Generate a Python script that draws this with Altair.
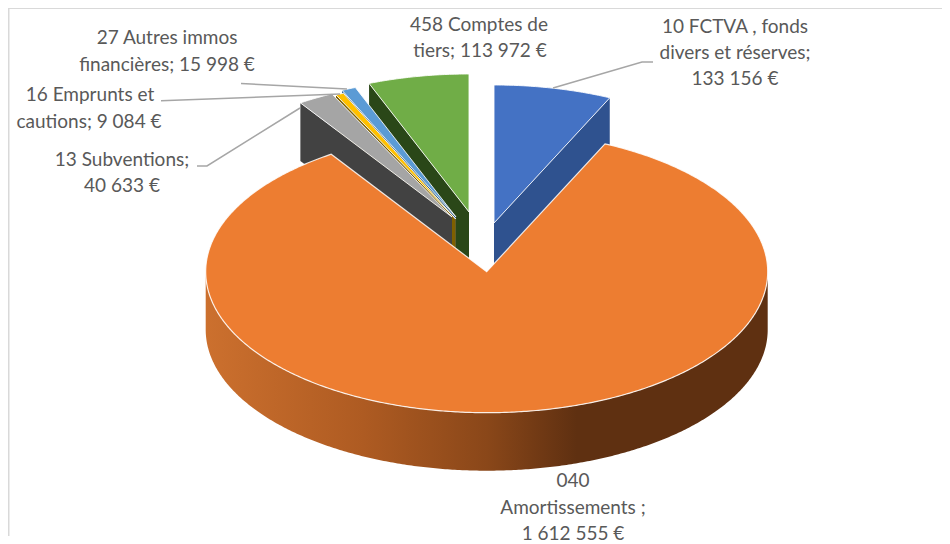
import math
import altair as alt

# --- chart values -----------------------------------------------------------
codes = ["10 FCTVA , fonds divers et réserves", "040 Amortissements", "13 Subventions",
         "16 Emprunts et cautions", "27 Autres immos financières", "458 Comptes de tiers"]
amounts = [133156, 1612555, 40633, 9084, 15998, 113972]
tops = ["#4472c4", "#ed7d31", "#a5a5a5", "#ffc000", "#5b9bd5", "#70ad47"]
walls = ["#2f528f", "#8a4a1d", "#424242", "#7f6000", "#2e5c8a", "#2a4718"]

# --- 3-D look of the pie ----------------------------------------------------
tips = [(494, 223), (486.7, 271.7), (452, 217), (455.7, 219), (456, 217), (469, 212)]
radii = [(275, 138), (281, 141), (274, 137), (273, 138), (277, 139), (275, 138)]
DEPTH = 58
paint_order = [0, 5, 4, 3, 2, 1]

total = sum(amounts)
edges = [0.0]
for a in amounts:
    edges.append(edges[-1] + a / total * 360)


def rim(i, a):
    r = math.radians(a)
    return (tips[i][0] + radii[i][0] * math.sin(r), tips[i][1] - radii[i][1] * math.cos(r))


def arc(i, a0, a1):
    n = max(2, int(abs(a1 - a0) * 2))
    return [rim(i, a0 + (a1 - a0) * k / n) for k in range(n + 1)]


def down(p):
    return (p[0], p[1] + DEPTH)


def feature(points, fill, stroke="none", width=0.0, opacity=1.0):
    return {"type": "Feature",
            "properties": {"fill": fill, "stroke": stroke, "width": width, "opacity": opacity},
            "geometry": {"type": "Polygon", "coordinates": [[list(p) for p in points] + [list(points[0])]]}}


def line(points, stroke, width):
    return {"type": "Feature",
            "properties": {"fill": "none", "stroke": stroke, "width": width, "opacity": 1.0},
            "geometry": {"type": "LineString", "coordinates": [list(p) for p in points]}}


back = []
for i in paint_order[:-1]:
    t = tips[i]
    a0, a1 = edges[i], edges[i + 1]
    if i == 0:  # right-hand cut face shows
        e = rim(i, a1)
    else:       # left-hand cut face shows
        e = rim(i, a0)
    back.append(feature([t, e, down(e), down(t)], walls[i]))
    back.append(feature([t] + arc(i, a0, a1), tops[i], "#ffffff", 1.0, 0.85))

# orange front wall (drawn apart because of its gradient)
o = 1
wall_pts = arc(o, 90, 270)
wall = feature(wall_pts + [down(p) for p in reversed(wall_pts)], "x")
orange_top = feature([tips[o]] + arc(o, edges[o], edges[o + 1]), tops[o], "#ffffff", 1.2, 0.85)

# --- frame and leader lines -------------------------------------------------
frame = [line([(8.5, 544), (8.5, 8), (950, 8)], "#d9d9d9", 2)]
leaders = [
    line([(241, 83.5), (347, 89)], "#a6a6a6", 1.5),
    line([(161, 100.7), (340, 94)], "#a6a6a6", 1.5),
    line([(197, 166), (207, 166), (300, 108)], "#a6a6a6", 1.5),
    line([(653, 62), (642, 62), (553, 88)], "#a6a6a6", 1.5),
]

label_lines = ["458 Comptes de", "tiers; 113 972 €",
               "10 FCTVA , fonds", "divers et réserves;", "133 156 €",
               "27 Autres immos", "financières; 15 998 €",
               "16 Emprunts et", "cautions; 9 084 €",
               "13 Subventions;", "40 633 €",
               "040", "Amortissements ;", "1 612 555 €"]
label_x = [479, 480, 735, 735, 735, 167, 167, 90, 89, 122, 122, 573, 573, 573]
label_y = [25, 51, 27, 53, 79, 38, 65, 95, 122, 160, 186, 481, 508, 534]
labels = [{"t": t, "x": x - 8, "y": y - 8} for t, x, y in zip(label_lines, label_x, label_y)]


def shapes(features):
    return alt.Chart(alt.Data(values=features)).mark_geoshape().encode(
        fill=alt.Fill("properties.fill:N", scale=None),
        stroke=alt.Stroke("properties.stroke:N", scale=None),
        strokeWidth=alt.StrokeWidth("properties.width:Q", scale=None),
        strokeOpacity=alt.StrokeOpacity("properties.opacity:Q", scale=None),
    )


gradient = alt.Gradient(
    gradient="linear", x1=0, x2=1, y1=0, y2=0,
    stops=[alt.GradientStop(offset=0, color="#cc702e"),
           alt.GradientStop(offset=0.28, color="#ae5b22"),
           alt.GradientStop(offset=0.5, color="#8a4719"),
           alt.GradientStop(offset=0.66, color="#5f3011"),
           alt.GradientStop(offset=1, color="#5f3011")])

orange_wall = alt.Chart(alt.Data(values=[wall])).mark_geoshape(fill=gradient, stroke=None, strokeWidth=0)

text = alt.Chart(alt.Data(values=labels)).mark_text(
    font="Lato", fontSize=19, color="#595959", align="center", baseline="middle"
).encode(x=alt.X("x:Q", scale=None), y=alt.Y("y:Q", scale=None), text="t:N")

chart = alt.layer(
    shapes(frame), shapes(back), orange_wall, shapes([orange_top]), shapes(leaders), text
).project(type="identity", scale=1, translate=[-8, -8]).properties(
    width=934, height=528, padding=0, background="#ffffff"
).configure_view(stroke=None)

chart.save("out.html", embed_options={"renderer": "svg", "actions": False})
